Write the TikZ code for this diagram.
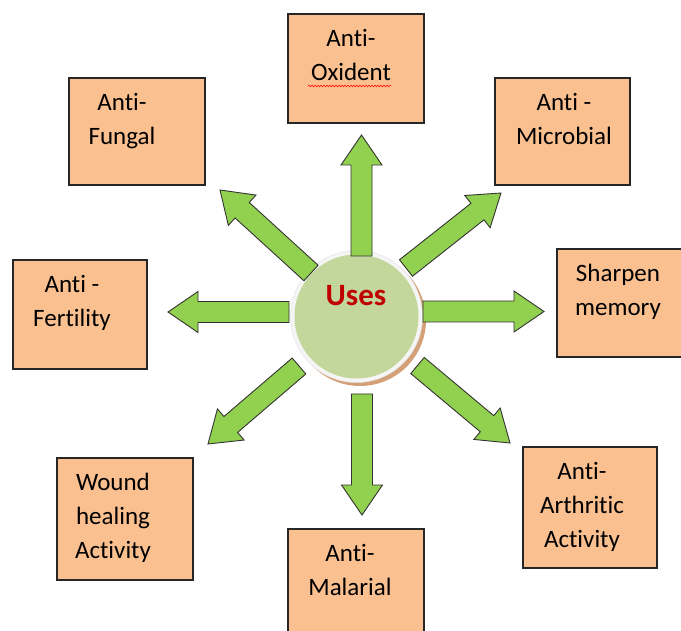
\documentclass[tikz,border=0pt]{standalone}
\usepackage{fontspec}
\setmainfont{Carlito}[Ligatures=NoCommon]
\usetikzlibrary{calc, positioning, decorations.pathmorphing}
\definecolor{peach}{RGB}{250,192,144}
\definecolor{leaf}{RGB}{146,208,80}
\definecolor{olive}{RGB}{195,214,155}
\definecolor{usesred}{RGB}{192,0,0}
\definecolor{shade}{RGB}{212,160,120}
\tikzstyle{usebox}=[rectangle, draw=black!85, fill=peach, line width=1.2pt, inner sep=0pt]
\tikzstyle{usetext}=[align=center, inner sep=0pt, anchor=base, font=\fontsize{25}{34}\selectfont]
\tikzstyle{blockarrow}=[draw=black!80, fill=leaf, line width=0.9pt, line join=miter]
\newcommand{\usesarrow}[2]{%
  \coordinate (#1b) at ($(#2)!30pt!(#1)$);
  \draw[blockarrow] ($(#1)!10.5pt!90:(#2)$) -- ($(#1b)!10.5pt!90:(#2)$) -- ($(#1b)!20.5pt!90:(#2)$) -- (#2)
    -- ($(#1b)!20.5pt!-90:(#2)$) -- ($(#1b)!10.5pt!-90:(#2)$) -- ($(#1)!10.5pt!-90:(#2)$) -- cycle;}
\begin{document}
\begin{tikzpicture}[x=1pt, y=-1pt]
\useasboundingbox (0,0) rectangle (681,631);
\node [circle, fill=shade, inner sep=0pt, minimum size=132pt](usesshade) at (360,320){};
\node [circle, fill=black!4, draw=black!10, line width=0.5pt, inner sep=0pt, minimum size=132pt](usesring) at (356.5,316.5){};
\node [circle, fill=olive, inner sep=0pt, minimum size=124pt](uses) at (356.5,316.5){};
\node [font=\bfseries\fontsize{31}{31}\selectfont, text=usesred, anchor=base](usestitle) at (356,306){Uses};
\tikzstyle{every node}=[usebox];
\node [minimum width=136pt, minimum height=109pt](oxid) at (356,68.5){};
\node [minimum width=136pt, minimum height=107pt](fungal) at (137,131.5){};
\node [minimum width=135pt, minimum height=107pt](micro) at (562.5,131.5){};
\node [minimum width=134pt, minimum height=109pt](fert) at (80,314.5){};
\node [minimum width=133pt, minimum height=108pt](sharp) at (623.5,303){};
\node [minimum width=134pt, minimum height=121pt](arth) at (590,507.5){};
\node [minimum width=136pt, minimum height=122pt](wound) at (125,519){};
\node [minimum width=136pt, minimum height=111pt](malar) at (356,584.5){};
\tikzstyle{every node}=[usetext];
\node (oxidtext) at (351,80.5){Anti-\\Oxident};
\node (fungaltext) at (122,144.5){Anti-\\Fungal};
\node (microtext) at (564,144.5){Anti -\\Microbial};
\node (perttext) at (72,326.5){Anti -\\Fertility};
\node (sharptext) at (618,315.5){Sharpen\\memory};
\node (arthtext) at (582,547.5){Anti-\\Arthritic\\Activity};
\node (woundtext) at (113,558.5){Wound\\healing\\Activity};
\node (malartext) at (350,595.5){Anti-\\Malarial};
\draw [red, line width=0.6pt, decorate, decoration={snake, amplitude=0.7pt, segment length=3pt}] (308,86) -- (391,86);
\coordinate (upT) at (361.5,256); \coordinate (upH) at (361.5,135);
\coordinate (downT) at (362,394); \coordinate (downH) at (362,515);
\coordinate (leftT) at (289,312); \coordinate (leftH) at (168,312);
\coordinate (rightT) at (423,311.5); \coordinate (rightH) at (544,311.5);
\coordinate (ulT) at (311,273); \coordinate (ulH) at (220,190);
\coordinate (urT) at (406,268); \coordinate (urH) at (501,193);
\coordinate (dlT) at (299,366); \coordinate (dlH) at (208,444);
\coordinate (drT) at (417.5,365.5); \coordinate (drH) at (510,443);
\usesarrow{upT}{upH} \usesarrow{downT}{downH}
\usesarrow{leftT}{leftH} \usesarrow{rightT}{rightH}
\usesarrow{ulT}{ulH} \usesarrow{urT}{urH}
\usesarrow{dlT}{dlH} \usesarrow{drT}{drH}
\end{tikzpicture}
\end{document}
